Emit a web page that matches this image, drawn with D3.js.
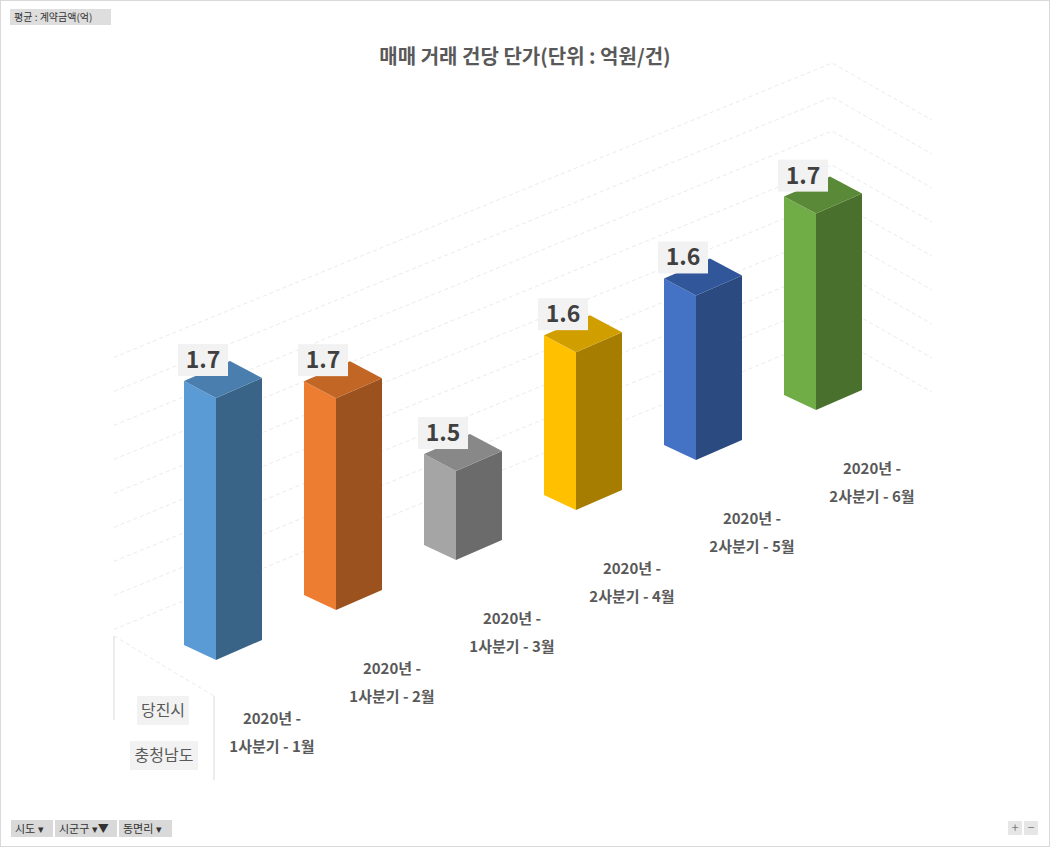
<!DOCTYPE html>
<html><head><meta charset="utf-8">
<script src="https://cdn.jsdelivr.net/npm/d3@7"></script>
<style>body{margin:0;background:#fff;font-family:"Noto Sans CJK KR","Noto Sans",sans-serif}</style>
</head><body><svg id="c" width="1050" height="847"></svg>
<script>
const categories = ["1사분기 - 1월","1사분기 - 2월","1사분기 - 3월","2사분기 - 4월","2사분기 - 5월","2사분기 - 6월"];
const years = ["2020년 -","2020년 -","2020년 -","2020년 -","2020년 -","2020년 -"];
const values = [1.70, 1.65, 1.50, 1.60, 1.62, 1.68];
const labels = ["1.7","1.7","1.5","1.6","1.6","1.7"];
const front = ["#5b9bd5","#ed7d31","#a5a5a5","#ffc000","#4472c4","#70ad47"];
const side  = ["#3a6487","#9c521f","#6b6b6b","#a67d00","#2b4a80","#4a702e"];
const topc  = ["#4a7eae","#c26626","#888888","#d19e00","#32569a","#5a8a38"];

const svg = d3.select("#c");
const F = "'Noto Sans CJK KR','Noto Sans',sans-serif";
svg.append("rect").attr("x",0.5).attr("y",0.5).attr("width",1049).attr("height",846).attr("fill","#fff").attr("stroke","#d9d9d9");

const grid = svg.append("g").attr("stroke","#ebebeb").attr("fill","none").attr("stroke-dasharray","4,3");
d3.range(9).forEach(k=>{
  const yp = 63 + 34*k;
  const yl = yp + 0.41*(832-114);
  grid.append("polyline").attr("points",`114,${yl} 832,${yp} 932,${yp+57}`);
});
grid.append("line").attr("x1",114).attr("y1",636).attr("x2",214).attr("y2",696);
svg.append("line").attr("x1",114).attr("y1",636).attr("x2",114).attr("y2",720).attr("stroke","#d9d9d9");
svg.append("line").attr("x1",214).attr("y1",696).attr("x2",214).attr("y2",780).attr("stroke","#d9d9d9");

const x = d3.scaleLinear().domain([0,5]).range([216,816]);
const base = d3.scaleLinear().domain([0,5]).range([660,410]);
const depth = d3.scaleLinear().domain([0,5]).range([1,0.8]);
const h = d3.scaleLinear().domain([1.383,1.70]).range([0,262]);

values.forEach((v,i)=>{
  const X=x(i), B=base(i), T=B-h(v)*depth(i);
  const g=svg.append("g");
  g.append("polygon").attr("points",`${X-32},${B-15} ${X},${B} ${X},${T} ${X-32},${T-17}`).attr("fill",front[i]);
  g.append("polygon").attr("points",`${X},${B} ${X+46},${B-20} ${X+46},${T-20} ${X},${T}`).attr("fill",side[i]);
  g.append("polygon").attr("points",`${X-32},${T-17} ${X},${T} ${X+46},${T-20} ${X+14},${T-37}`).attr("fill",topc[i]);
  const lx=X-13, ly=T-38;
  g.append("rect").attr("x",lx-25).attr("y",ly-16).attr("width",50).attr("height",32).attr("fill","#f2f2f2");
  g.append("text").attr("x",lx).attr("y",ly+8).attr("text-anchor","middle").attr("font-family",F).attr("font-size",23).attr("font-weight","bold").attr("fill","#404040").text(labels[i]);
  const cx=272+120*i, cy=719-50*i;
  g.append("text").attr("x",cx).attr("y",cy+5).attr("text-anchor","middle").attr("font-family",F).attr("font-size",15).attr("font-weight","bold").attr("fill","#595959").text(years[i]);
  g.append("text").attr("x",cx).attr("y",cy+33).attr("text-anchor","middle").attr("font-family",F).attr("font-size",15).attr("font-weight","bold").attr("fill","#595959").text(categories[i]);
});

[["당진시",163,710,52],["충청남도",164,755,68]].forEach(([t,cx,cy,w])=>{
  svg.append("rect").attr("x",cx-w/2).attr("y",cy-14).attr("width",w).attr("height",29).attr("fill","#f2f2f2");
  svg.append("text").attr("x",cx).attr("y",cy+6).attr("text-anchor","middle").attr("font-family",F).attr("font-size",16).attr("fill","#595959").text(t);
});

svg.append("text").attr("x",525).attr("y",64).attr("text-anchor","middle").attr("font-family",F).attr("font-size",20).attr("font-weight","bold").attr("fill","#595959").text("매매 거래 건당 단가(단위 : 억원/건)");

svg.append("rect").attr("x",10).attr("y",9).attr("width",101).attr("height",16).attr("fill","#dedede");
svg.append("text").attr("x",14).attr("y",21).attr("font-family",F).attr("font-size",10).attr("fill","#333").text("평균 : 계약금액(억)");
[["시도 ▾",11,42],["시군구 ▾▼",55,62],["동면리 ▾",119,53]].forEach(([t,bx,w])=>{
  svg.append("rect").attr("x",bx).attr("y",820).attr("width",w).attr("height",17).attr("fill","#d9d9d9");
  svg.append("text").attr("x",bx+4).attr("y",833).attr("font-family",F).attr("font-size",11).attr("fill","#333").text(t);
});
[["+",1008],["−",1024]].forEach(([t,bx])=>{
  svg.append("rect").attr("x",bx).attr("y",821).attr("width",14).attr("height",14).attr("fill","#e6e6e6");
  svg.append("text").attr("x",bx+7).attr("y",832).attr("text-anchor","middle").attr("font-family",F).attr("font-size",12).attr("fill","#777").text(t);
});
</script></body></html>
